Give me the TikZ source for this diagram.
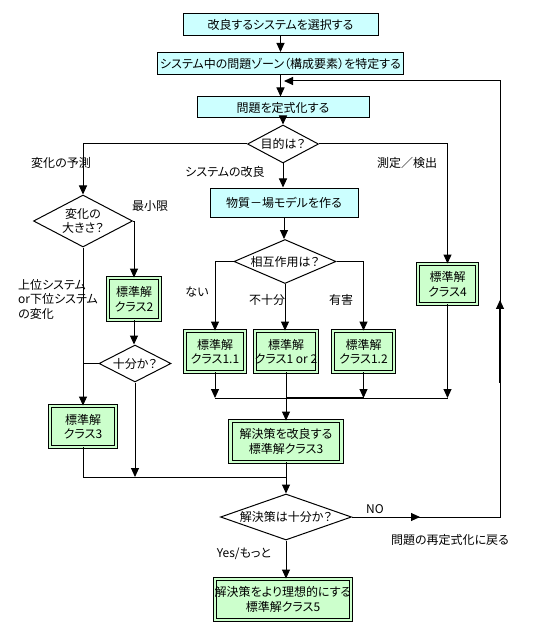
\documentclass[tikz,border=0pt]{standalone}
\usepackage{fontspec}
\setmainfont{Noto Sans CJK JP}[RawFeature=+palt]
\usetikzlibrary{shapes.geometric,arrows.meta,decorations.markings,calc}
\definecolor{cyanbox}{HTML}{CCFFFF}
\definecolor{greenbox}{HTML}{CCFFCC}
\begin{document}
\begin{tikzpicture}[x=1bp,y=-1bp,
  every node/.style={font=\fontsize{12bp}{14.5bp}\selectfont, inner sep=0pt},
  cbox/.style={draw, fill=cyanbox, line width=1bp, rectangle},
  gbox/.style={draw, fill=greenbox, double=greenbox, double distance=2.4bp, line width=0.9bp, align=center},
  dec/.style={draw, diamond, fill=white, line width=1bp, align=center},
  conn/.style={line width=1bp},
  arr/.style={line width=1bp, -{Triangle[length=9bp,width=8bp]}},
  thickseg/.style={line width=2.2bp},
]
\useasboundingbox (0,0) rectangle (543,641);
\fill[white] (0,0) rectangle (543,641);

% main flow boxes
\node[cbox, minimum width=195bp, minimum height=22bp] (b1) at (280.5,25) {改良するシステムを選択する};
\node[cbox, minimum width=246bp, minimum height=22bp] (b2) at (280.5,63.5) {システム中の問題ゾーン（構成要素）を特定する};
\node[cbox, minimum width=172bp, minimum height=21bp] (b3) at (283,107.5) {問題を定式化する};
\node[dec, minimum width=71bp, minimum height=38bp, aspect=1.87] (mok) at (283,144) {目的は？};
\node[dec, minimum width=99bp, minimum height=52bp, aspect=1.9] (henka) at (83,221) {変化の\\大きさ？};
\node[cbox, minimum width=148bp, minimum height=29bp] (buss) at (284,202.5) {物質－場モデルを作る};
\node[dec, minimum width=102bp, minimum height=44bp, aspect=2.32] (sogo) at (285,261.5) {相互作用は？};

% standard solution boxes
\node[gbox, minimum width=52bp, minimum height=42bp] (c2) at (134,299) {標準解\\クラス2};
\node[gbox, minimum width=59bp, minimum height=40bp] (c4) at (447.5,284) {標準解\\クラス4};
\node[gbox, minimum width=60bp, minimum height=41bp] (c11) at (215,351.5) {標準解\\クラス1.1};
\node[gbox, minimum width=61bp, minimum height=41bp] (c1or2) at (286,351.5) {標準解\\クラス1 or 2};
\node[gbox, minimum width=61bp, minimum height=41bp] (c12) at (363.5,351.5) {標準解\\クラス1.2};
\node[dec, minimum width=72bp, minimum height=37bp, aspect=1.95] (juubun) at (135,363.5) {十分か？};
\node[gbox, minimum width=66bp, minimum height=41bp] (c3) at (83,426.5) {標準解\\クラス3};
\node[gbox, minimum width=111bp, minimum height=41bp] (kairyo) at (286,441.5) {解決策を改良する\\標準解クラス3};
\node[dec, minimum width=131bp, minimum height=46bp, aspect=2.85] (kettei) at (286,517) {解決策は十分か？};
\node[gbox, minimum width=132bp, minimum height=41bp] (c5) at (283,599.5) {解決策をより理想的にする\\標準解クラス5};

% labels
\node (lYosoku) at (61,163) {変化の予測};
\node (lKairyo) at (225,172) {システムの改良};
\node (lSokutei) at (407,163) {測定／検出};
\node (lSaisho) at (150,206) {最小限};
\node[align=left, anchor=north west] (lJoui) at (18,279) {上位システム\\or下位システム\\の変化};
\node (lNai) at (197,292) {ない};
\node (lFujubun) at (267,300) {不十分};
\node (lYugai) at (341,300) {有害};
\node (lNo) at (375,509) {NO};
\node (lModoru) at (450,540) {問題の再定式化に戻る};
\node (lYes) at (244,554) {Yes/もっと};

% helper coordinates
\coordinate (hl) at (0,398);
\coordinate (jn) at (0,477);
\coordinate (fbX) at (500,81);
\coordinate (fbEnd) at (284,81);

% connectors
\draw[arr] (b1.south) -- (b1.south |- b2.north);
\draw[arr] (b2.south) -- (b2.south |- b3.north);
\draw[arr] (b3.south) -- (b3.south |- mok.north);
\draw[arr] (mok.west) -| (henka.north);
\draw[arr] (mok.south) -- (mok.south |- buss.north);
\draw[arr] (mok.east) -| (c4.north);
\draw[arr] (henka.east) -| (c2.north);
\draw[arr] (henka.south) -- (henka.south |- c3.north);
\draw[arr] (c2.south) -- (c2.south |- juubun.north);
\draw[conn] (juubun.west) -- (juubun.west -| henka.south);
\draw[arr] (juubun.south) -- (juubun.south |- jn);
\draw[conn] (c3.south) -- (c3.south |- jn) -- (kairyo.south |- jn);
\draw[arr] (kairyo.south) -- (kairyo.south |- kettei.north);
\draw[arr] (buss.south) -- (buss.south |- sogo.north);
\draw[arr] (sogo.west) -| (c11.north);
\draw[arr] (sogo.south) -- (sogo.south |- c1or2.north);
\draw[arr] (sogo.east) -| (c12.north);
\draw[arr] (c11.south) -- (c11.south |- hl);
\draw[arr] (c12.south) -- (c12.south |- hl);
\draw[arr] (c4.south) -- (c4.south |- hl);
\draw[conn] (c11.south |- hl) -- (c4.south |- hl);
\draw[thickseg] (c1or2.south |- hl) -- (c12.south |- hl);
\draw[arr] (c1or2.south) -- (c1or2.south |- kairyo.north);
\draw[arr] (kettei.south) -- (kettei.south |- c5.north);

% feedback loop
\draw[arr, postaction={decorate}, decoration={markings,
    mark=at position 68bp with {\arrow{Triangle[length=9bp,width=8bp]}},
    mark=at position 365bp with {\arrow{Triangle[length=9bp,width=8bp]}}}]
  (kettei.east) -- (kettei.east -| fbX) -- (fbX) -- (fbEnd);
\draw[thickseg] (500,309) -- (500,383);
\end{tikzpicture}
\end{document}
